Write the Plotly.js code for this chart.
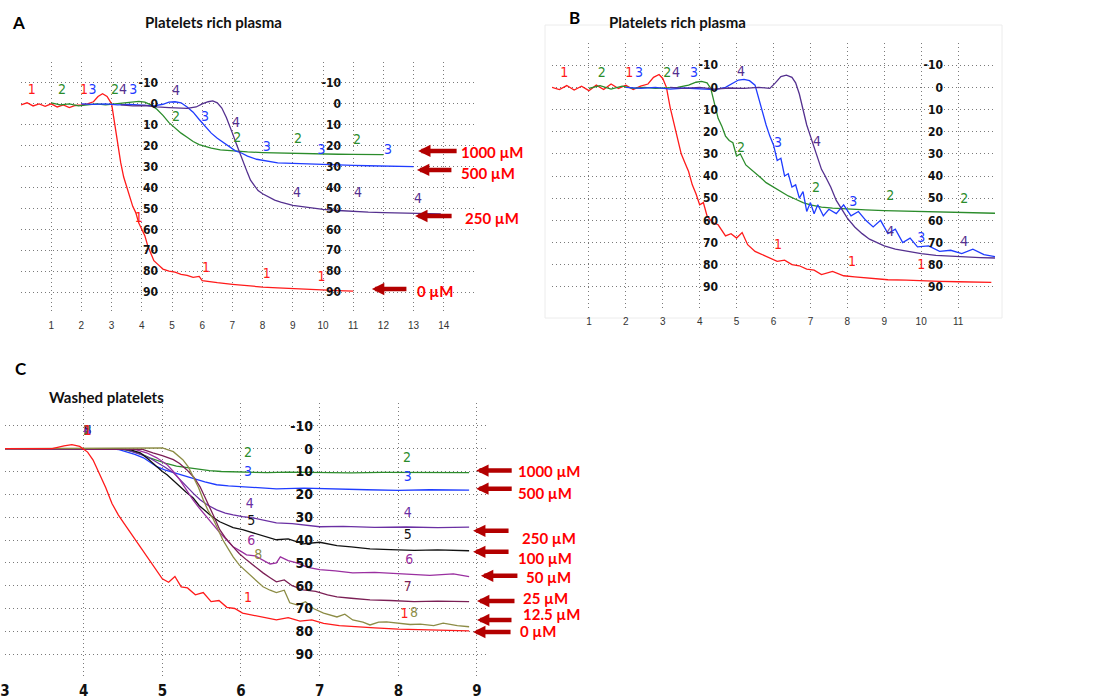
<!DOCTYPE html>
<html><head><meta charset="utf-8">
<script src="https://cdn.plot.ly/plotly-3.0.1.min.js"></script>
<style>html,body{margin:0;padding:0;background:#fff;}#chart{width:1108px;height:699px;}</style>
</head><body><div id="chart"></div>
<script>
// ---------- Panel A: platelets rich plasma (time, min / aggregation %) ----------
const A_x_0 = [0,0.2,0.4,0.6,0.8,1.0,1.2,1.4,1.6,1.8,2.0,2.2,2.4,2.55,2.7,2.85,3.0,3.1,3.2,3.3,3.4,3.5,3.6,3.7,3.8,3.9,4.0,4.1,4.2,4.3,4.4,4.55,4.7,4.9,5.1,5.3,5.5,5.7,5.9,6.0,6.2,6.5,7.0,7.5,8.0,8.5,9.0,9.5,10.0,10.5,11.0];
const A_y_0 = [0.5,-0.5,1,0,1.2,0,1.5,0.5,1.8,0.8,0.5,0,-1,-3.5,-4.8,-3.5,0,10,19,28,35,40,44,49,52,57,60,63,68,72,75,77,79,80,80.5,81.5,82,83,82.5,84.5,85,85.5,86.3,87,87.6,88,88.4,88.8,89,89.3,89.5];
const A_x_1000 = [1.0,1.3,1.6,1.9,2.2,2.5,2.8,3.1,3.4,3.7,3.9,4.1,4.3,4.5,4.7,4.9,5.1,5.3,5.5,5.7,5.9,6.1,6.3,6.6,7.0,7.5,8.0,8.5,9.0,9.5,10.0,10.5,11.0,11.5,12.0];
const A_y_1000 = [-0.5,0.5,0,1,0.5,0,0.5,0,-0.5,-1,-1.2,-0.8,0.5,2.6,5.5,9,11.5,14,16,18,19.5,20.5,21.2,22,22.5,23,23.3,23.5,23.7,24,24,24.1,24.2,24.3,24.3];
const A_x_500 = [2.0,2.4,2.8,3.2,3.6,4.0,4.4,4.7,4.9,5.1,5.3,5.5,5.7,5.9,6.1,6.3,6.5,6.7,6.9,7.1,7.3,7.5,7.8,8.1,8.5,9.0,9.5,10.0,10.5,11.0,11.5,12.0,12.5,13.0];
const A_y_500 = [0,0.3,0,0.5,0.3,0.8,1,0.2,-0.8,-1,-0.5,1.5,4,7.5,11,14,16.5,18.5,20.5,22.5,23.5,25,26.5,27.3,28.2,28.5,28.8,29,29.2,29.4,29.6,29.8,29.9,30];
const A_x_250 = [3.3,3.7,4.1,4.5,4.9,5.2,5.5,5.8,6.0,6.2,6.35,6.5,6.65,6.8,6.9,7.0,7.1,7.2,7.3,7.4,7.5,7.6,7.7,7.85,8.0,8.2,8.4,8.6,8.8,9.0,9.5,10.0,10.5,11.0,11.5,12.0,12.5,13.0,13.5,13.9];
const A_y_250 = [0.5,1,0.8,1.5,1.8,2.0,2.2,1.5,0,-1,-1.4,-0.5,2,6.5,10,14,18,22,26,29,33,36.5,38.5,41.5,43,44.5,46,47,47.8,48.5,49.5,50.5,51,51.5,51.8,52,52.2,52.4,52.5,52.6];
// curve number labels (1 = 0 µM, 2 = 1000 µM, 3 = 500 µM, 4 = 250 µM)
const A_lblx_1 = [0.36,2.09,3.9,6.13,8.14,9.95], A_lbly_1 = [-6.2,-6.2,55,78.5,81.5,83];
const A_lblx_2 = [1.36,3.11,5.13,7.16,9.17,11.13], A_lbly_2 = [-6.2,-6.2,6.7,16.5,17.2,17.7];
const A_lblx_3 = [2.37,3.72,6.09,8.14,9.95,12.15], A_lbly_3 = [-6.2,-6.5,6.7,21,22.5,22.5];
const A_lblx_4 = [3.38,5.13,7.12,9.14,11.16,13.15], A_lbly_4 = [-6.2,-5.8,9.5,43,43,45.5];
const A_doses = ['1000 µM','500 µM','250 µM','0 µM'];
const A_doseY = [22.5,31.6,53.6,88.5];
const A_doseX = [13.15,13.11,13.05,11.62];

// ---------- Panel B: platelets rich plasma ----------
const B_x_0 = [0,0.2,0.4,0.6,0.8,1.0,1.2,1.4,1.6,1.8,2.0,2.2,2.4,2.6,2.75,2.9,3.0,3.1,3.2,3.3,3.4,3.5,3.6,3.7,3.8,3.9,4.0,4.1,4.2,4.35,4.5,4.7,4.85,5.0,5.15,5.3,5.5,5.7,5.9,6.1,6.3,6.5,6.7,6.9,7.1,7.3,7.6,7.9,8.2,8.6,9.1,9.6,10.0,10.5,11.0,11.5,11.9];
const B_y_0 = [0,1,-0.8,1.2,-0.5,1.5,-1,1,-1.5,0.5,-1,1,-0.5,-1.5,-4.5,-5.8,-4,0,9,16,24,30,34,38,44,48,53,52,58,61,62,67,66,68,65.5,71,74,75.5,77,78.5,78,80,80.5,82,82.5,84.5,83,85,85.5,86,86.8,87,87.3,87.5,87.7,87.9,88];
const B_x_100 = [1.0,1.3,1.6,1.9,2.2,2.5,2.8,3.1,3.4,3.7,3.9,4.05,4.2,4.3,4.4,4.5,4.6,4.7,4.8,4.9,5.0,5.1,5.25,5.4,5.6,5.8,6.0,6.2,6.4,6.6,6.8,7.0,7.3,7.6,8.0,8.5,9.0,9.5,10.0,10.5,11.0,11.5,12.0];
const B_y_100 = [0.5,-0.8,0.8,-0.5,0.5,0,0.5,0.2,0,-1,-2.3,-2.7,-2,0.5,7,14,17.5,22,24,25,31,30,35,37,40,43,45,47,49,50.5,52,53,54,54.5,55,55.3,55.6,55.8,56,56.3,56.5,56.7,56.8];
const B_x_50 = [2.0,2.4,2.8,3.2,3.6,4.0,4.4,4.7,4.9,5.05,5.2,5.35,5.5,5.6,5.7,5.8,5.9,6.0,6.1,6.2,6.3,6.4,6.5,6.6,6.7,6.8,6.9,7.0,7.1,7.2,7.35,7.5,7.7,7.9,8.1,8.3,8.5,8.7,8.9,9.1,9.3,9.5,9.7,9.9,10.2,10.5,10.8,11.1,11.4,11.7,12.0];
const B_y_50 = [0,0.5,0,0.8,0.3,0.5,1,0,-2,-3.3,-3.6,-3,-1,5,12,17,22,26,33,32,40,39,45,44,50,47,56,52,57,53,58,55,57,53,58,56,60,63,60,66,64,70,68,72,71.5,74,73.5,75,73,75.5,76.4];
const B_x_25 = [3.2,3.6,4.0,4.4,4.8,5.2,5.6,5.9,6.05,6.2,6.35,6.5,6.6,6.7,6.8,6.9,7.0,7.1,7.2,7.3,7.4,7.55,7.7,7.85,8.0,8.2,8.4,8.6,8.8,9.0,9.3,9.6,10.0,10.4,10.8,11.2,11.6,12.0];
const B_y_25 = [0,0.5,0,0.8,0.3,0.5,0,0.5,-2,-4.8,-5.5,-4.5,-2,3,10,17,22,27,32,37,40,45,51,55,59,63,66,68.5,70,71.5,73,74,75,75.8,76.2,76.5,76.8,77];
// curve number labels (1 = 0 µM, 2 = 100 µM, 3 = 50 µM, 4 = 25 µM)
const B_lblx_1 = [0.33,2.09,6.12,8.13,10.0], B_lbly_1 = [-6.3,-6.3,71.5,79.2,80.5];
const B_lblx_2 = [1.35,3.12,5.12,7.15,9.16,11.17], B_lbly_2 = [-6.3,-6.3,27.6,45.7,49.3,50.7];
const B_lblx_3 = [2.36,3.85,6.12,8.16,10.0], B_lbly_3 = [-6.3,-6.3,25.3,52,68.3];
const B_lblx_4 = [3.36,5.12,7.18,9.16,11.17], B_lbly_4 = [-6.3,-6.8,24.9,65.6,70];
const B_doses = ['100 µM','50 µM','25 µM','0 µM'];
const B_doseY = [57,71,79.2,88.7];
const B_doseX = [12.28,12.28,12.22,12.06];

// ---------- Panel C: washed platelets ----------
const C_x_0 = [3.0,3.2,3.4,3.6,3.75,3.85,3.95,4.05,4.12,4.2,4.28,4.36,4.44,4.52,4.6,4.7,4.8,4.9,5.0,5.08,5.16,5.24,5.32,5.42,5.52,5.62,5.72,5.82,5.92,6.02,6.15,6.3,6.45,6.6,6.75,6.9,7.05,7.25,7.45,7.7,8.0,8.3,8.6,8.9];
const C_y_0 = [0,0,0.3,0,-1.2,-1.8,-1,1.5,5,11,17,24,29,33,37,42,47,52,57,58.5,56,60.5,61,64,63,67,66.5,69.5,70,72,73,74,75,74,75.5,75,76.5,77.5,78,78.5,79,79.2,79.5,79.8];
const C_x_1000 = [3.0,3.5,4.0,4.3,4.5,4.63,4.75,4.84,4.95,5.06,5.18,5.31,5.45,5.6,5.75,5.9,6.1,6.33,6.6,7.0,7.4,7.8,8.2,8.6,8.9];
const C_y_1000 = [0,0,0,0,0.3,1.3,2.6,4,5.3,6.6,7.6,8.3,9,9.6,10,10.2,10.4,10.5,10.3,10.5,10.6,10.4,10.5,10.6,10.5];
const C_x_500 = [3.0,3.5,4.0,4.3,4.45,4.55,4.65,4.76,4.85,4.93,5.03,5.14,5.26,5.39,5.54,5.69,5.84,5.99,6.2,6.45,6.8,7.2,7.6,8.0,8.4,8.9];
const C_y_500 = [0,0,0,0,0.4,1.3,2.5,4,6,7.9,9.3,10.5,11.8,13,14.5,15.8,16.3,16.7,17.2,17.6,17.3,17.8,18,18.3,18,18.2];
const C_x_250 = [3.0,3.5,4.0,4.4,4.55,4.63,4.75,4.85,4.93,5.03,5.14,5.22,5.31,5.4,5.48,5.58,5.69,5.8,5.9,6.02,6.15,6.3,6.45,6.65,6.85,7.0,7.3,7.7,8.1,8.5,8.9];
const C_y_250 = [0,0,0,0,0.5,1.3,2.8,4.3,5.8,8,10.5,13.5,16.7,19.8,22.4,24.8,26.8,28.2,29,29.8,30.3,31.5,32.5,32.8,33.5,34.2,34,34.5,34.3,34.6,34.4];
const C_x_100 = [3.0,3.5,4.0,4.4,4.6,4.72,4.82,4.93,5.0,5.06,5.14,5.22,5.3,5.39,5.47,5.56,5.64,5.73,5.82,5.9,6.02,6.15,6.3,6.45,6.6,6.79,7.0,7.22,7.4,7.64,7.9,8.2,8.5,8.9];
const C_y_100 = [0,0,0,0,0.5,1.8,4.5,7.9,10,11.4,14,16.7,19,21.5,25,27.6,30,32,33.5,34.6,35.5,36.8,38.5,39.9,39.5,41.7,41,42.5,43,43.9,44.2,44.5,44.3,44.7];
const C_x_50 = [3.0,3.5,4.0,4.4,4.65,4.8,4.93,5.06,5.14,5.22,5.3,5.39,5.47,5.56,5.64,5.73,5.82,5.9,6.0,6.07,6.18,6.28,6.37,6.45,6.5,6.6,6.71,6.85,7.0,7.2,7.42,7.7,8.06,8.4,8.7,8.9];
const C_y_50 = [0,0,0,0,0.3,1.8,4,7,10,13.6,18,22.4,26,29.8,33.5,36.8,40,43,45,46.5,47,48.7,50.5,50,47.4,49,50,52,53,53.5,54.4,54.2,55,55.5,54.8,56];
const C_x_25 = [3.0,3.5,4.0,4.5,4.75,4.88,5.0,5.14,5.22,5.31,5.4,5.48,5.54,5.6,5.66,5.73,5.8,5.9,5.98,6.07,6.17,6.28,6.37,6.45,6.55,6.65,6.79,6.95,7.1,7.22,7.4,7.64,7.9,8.2,8.5,8.9];
const C_y_25 = [0,0,0,0,0.3,1.8,3,4.8,6.5,9.2,12.5,16.7,21,25.4,30,35.5,39,43,46,48.7,51.5,54.4,56.5,58.3,57.5,60,61.8,62.5,64,64.9,65.5,66.2,66.5,67,66.8,67];
const C_x_12 = [3.0,3.5,4.0,4.5,4.8,5.0,5.14,5.26,5.33,5.39,5.46,5.52,5.58,5.65,5.71,5.77,5.84,5.9,5.98,6.07,6.17,6.28,6.37,6.45,6.55,6.62,6.72,6.82,6.92,7.05,7.22,7.32,7.42,7.55,7.64,7.75,7.85,8.0,8.15,8.28,8.45,8.57,8.75,8.9];
const C_y_12 = [0,0,0,0,0,-0.3,1.3,4.8,8,12.3,17,22.4,27,31,35.5,40,44,47.4,51,53.9,57,60.5,62,63,62,67.5,68.5,67,70,72,73.7,72.5,75,76,77.2,76,75.9,76.5,77,76.8,77.5,76.4,77.5,78];
// curve number labels (1 = 0, 2 = 1000, 3 = 500, 4 = 250, 5 = 100, 6 = 50, 7 = 25, 8 = 12.5 µM)
const C_lblx_1 = [4.05,6.09,8.08], C_lbly_1 = [-7.5,65.4,72.8];
const C_lblx_2 = [4.05,6.09,8.11], C_lbly_2 = [-7.5,2.3,4.4];
const C_lblx_3 = [4.05,6.09,8.12], C_lbly_3 = [-7.5,10.6,12.7];
const C_lblx_4 = [4.05,6.11,8.12], C_lbly_4 = [-7.5,24.6,28.5];
const C_lblx_5 = [4.05,6.13,8.12], C_lbly_5 = [-7.5,32,38];
const C_lblx_6 = [4.05,6.13,8.14], C_lbly_6 = [-7.5,40.5,49];
const C_lblx_7 = [4.05,8.12], C_lbly_7 = [-7.5,61];
const C_lblx_8 = [4.05,6.22,8.2], C_lbly_8 = [-7.5,47,72];
const C_doses = ['1000 µM','500 µM','250 µM','100 µM','50 µM','25 µM','12.5 µM','0 µM'];
const C_doseY = [9.6,17.5,36,45.2,55.7,66.7,75,80.3];
const C_doseX = [8.99,8.99,8.95,8.95,9.05,9.0,9.0,8.95];

// ---------- axis ticks ----------
const yGridVals = [-20,-10,0,10,20,30,40,50,60,70,80,90,100];
const yLabelVals = [-10,0,10,20,30,40,50,60,70,80,90];
const yLabelText = ['-10','0','10','20','30','40','50','60','70','80','90'];
const A_xTicks = [0,1,2,3,4,5,6,7,8,9,10,11,12,13,14,15];
const A_xText = ['','1','2','3','4','5','6','7','8','9','10','11','12','13','14',''];
const B_xTicks = [0,1,2,3,4,5,6,7,8,9,10,11,12];
const B_xText = ['','1','2','3','4','5','6','7','8','9','10','11',''];
const C_xTicks = [3,4,5,6,7,8,9,9.14];
const C_xText = ['3','4','5','6','7','8','9',''];

// ---------- styling ----------
const W = 1108, H = 699;
const NARROW = "Liberation Sans Narrow, Arial Narrow, DejaVu Sans Condensed, sans-serif";
const CAL = "Lato, Open Sans, sans-serif";
const COL = {red:'#ff1a1a', green:'#2b8c2b', blue:'#1f3cff', purple:'#54308f',
  c4:'#6a2fa3', c5:'#111111', c6:'#9a2fa0', c7:'#7b1f55', c8:'#8c8c45'};
const GRID = '#7a7a7a';
const DOT = '1px,3px';
const px = v => v / W, py = v => 1 - v / H;

const traces = [];
function line(x, y, color, xa, ya) {
  traces.push({x, y, type:'scatter', mode:'lines', xaxis:xa, yaxis:ya,
    line:{color, width:1.3}, hoverinfo:'skip', cliponaxis:true});
}
function nums(x, y, txt, color, xa, ya, size) {
  traces.push({x, y, type:'scatter', mode:'text', xaxis:xa, yaxis:ya,
    text:x.map(()=>txt), textposition:'middle center', cliponaxis:false,
    textfont:{family:NARROW, size, color}, hoverinfo:'skip'});
}
// empty carrier traces so the inner label axes are drawn
function carrier(xa, ya) {
  traces.push({x:[], y:[], type:'scatter', mode:'lines', xaxis:xa, yaxis:ya, hoverinfo:'skip', showlegend:false});
}
line(A_x_0, A_y_0, COL.red, 'x', 'y');
line(A_x_1000, A_y_1000, COL.green, 'x', 'y');
line(A_x_500, A_y_500, COL.blue, 'x', 'y');
line(A_x_250, A_y_250, COL.purple, 'x', 'y');
nums(A_lblx_1, A_lbly_1, '1', COL.red, 'x', 'y', 14);
nums(A_lblx_2, A_lbly_2, '2', COL.green, 'x', 'y', 14);
nums(A_lblx_3, A_lbly_3, '3', COL.blue, 'x', 'y', 14);
nums(A_lblx_4, A_lbly_4, '4', COL.purple, 'x', 'y', 14);

line(B_x_0, B_y_0, COL.red, 'x2', 'y2');
line(B_x_100, B_y_100, COL.green, 'x2', 'y2');
line(B_x_50, B_y_50, COL.blue, 'x2', 'y2');
line(B_x_25, B_y_25, COL.purple, 'x2', 'y2');
nums(B_lblx_1, B_lbly_1, '1', COL.red, 'x2', 'y2', 14);
nums(B_lblx_2, B_lbly_2, '2', COL.green, 'x2', 'y2', 14);
nums(B_lblx_3, B_lbly_3, '3', COL.blue, 'x2', 'y2', 14);
nums(B_lblx_4, B_lbly_4, '4', COL.purple, 'x2', 'y2', 14);

line(C_x_1000, C_y_1000, COL.green, 'x3', 'y3');
line(C_x_500, C_y_500, COL.blue, 'x3', 'y3');
line(C_x_250, C_y_250, COL.c4, 'x3', 'y3');
line(C_x_100, C_y_100, COL.c5, 'x3', 'y3');
line(C_x_50, C_y_50, COL.c6, 'x3', 'y3');
line(C_x_25, C_y_25, COL.c7, 'x3', 'y3');
line(C_x_12, C_y_12, COL.c8, 'x3', 'y3');
line(C_x_0, C_y_0, COL.red, 'x3', 'y3');
nums(C_lblx_8, C_lbly_8, '8', COL.c8, 'x3', 'y3', 14);
nums(C_lblx_7, C_lbly_7, '7', COL.c7, 'x3', 'y3', 14);
nums(C_lblx_6, C_lbly_6, '6', COL.c6, 'x3', 'y3', 14);
nums(C_lblx_5, C_lbly_5, '5', COL.c5, 'x3', 'y3', 14);
nums(C_lblx_4, C_lbly_4, '4', COL.c4, 'x3', 'y3', 14);
nums(C_lblx_3, C_lbly_3, '3', COL.blue, 'x3', 'y3', 14);
nums(C_lblx_2, C_lbly_2, '2', COL.green, 'x3', 'y3', 14);
nums(C_lblx_1, C_lbly_1, '1', COL.red, 'x3', 'y3', 14);

carrier('x', 'y4'); carrier('x', 'y5');
carrier('x2', 'y6'); carrier('x2', 'y7');
carrier('x3', 'y8');

function xAxis(domain, range, tv, tt, anchor, font, standoff) {
  return {domain, range, anchor, tickmode:'array', tickvals:tv, ticktext:tt,
    showgrid:true, gridcolor:GRID, griddash:DOT, gridwidth:1, zeroline:false,
    showline:false, ticks:'', tickfont:font, ticklabelstandoff:standoff, fixedrange:true};
}
function yAxis(domain, anchor) {
  return {domain, range:[100,-20], anchor, tickmode:'array', tickvals:yGridVals,
    showticklabels:false, showgrid:true, gridcolor:GRID, griddash:DOT, gridwidth:1,
    zeroline:false, showline:false, ticks:'', fixedrange:true};
}
function yLab(over, pos, size) {
  return {overlaying:over, anchor:'free', position:pos, range:[100,-20], side:'left',
    tickmode:'array', tickvals:yLabelVals, ticktext:yLabelText, showgrid:false,
    zeroline:false, showline:false, ticks:'', ticklabelstandoff:0,
    tickfont:{family:NARROW, size, color:'#111', weight:'bold'}, fixedrange:true};
}
const smallTick = {family:"Liberation Sans, Arial, sans-serif", size:10, color:'#333'};
const boldTick = {family:NARROW, size:15, color:'#111', weight:'bold'};

const layout = {
  width:W, height:H, autosize:false, showlegend:false,
  margin:{l:0, r:0, t:0, b:0, pad:0},
  paper_bgcolor:'#fff', plot_bgcolor:'#fff',
  xaxis: xAxis([px(21), px(474)], [0,15], A_xTicks, A_xText, 'y', smallTick, 5),
  yaxis: yAxis([py(313), py(62)], 'x'),
  xaxis2: xAxis([px(552), px(995)], [0,12], B_xTicks, B_xText, 'y2', smallTick, 5),
  yaxis2: yAxis([py(309), py(43)], 'x2'),
  xaxis3: xAxis([px(5), px(488)], [3,9.14], C_xTicks, C_xText, 'y3', boldTick, 3),
  yaxis3: yAxis([py(677), py(403)], 'x3'),
  yaxis4: yLab('y', px(158), 12),
  yaxis5: yLab('y', px(341), 12),
  yaxis6: yLab('y2', px(718), 12),
  yaxis7: yLab('y2', px(943), 12),
  yaxis8: yLab('y3', px(313), 14),
  shapes: [
    {type:'rect', xref:'paper', yref:'paper', x0:px(545), x1:px(1002), y0:py(318), y1:py(25),
     line:{color:'#ececec', width:1}, fillcolor:'rgba(0,0,0,0)', layer:'below'}
  ],
  annotations: []
};
const ann = layout.annotations;
// panel letters and titles
[['A',10,22,17],['B',567,17,17],['C',13,368,17]].forEach(([t,x,y,s]) => ann.push({
  text:'<b>'+t+'</b>', xref:'paper', yref:'paper', x:px(x), y:py(y), xanchor:'left', yanchor:'middle',
  showarrow:false, font:{family:CAL, size:s, color:'#000'}}));
[['Platelets rich plasma',143,22],['Platelets rich plasma',607,22],['Washed platelets',47,397]].forEach(([t,x,y]) => ann.push({
  text:'<b>'+t+'</b>', xref:'paper', yref:'paper', x:px(x), y:py(y), xanchor:'left', yanchor:'middle',
  showarrow:false, font:{family:CAL, size:15, color:'#111'}}));

// dose arrows: [tail length px, text x-shift px, text y-shift px]
const A_arrowGeo = [[40,41,-1],[36,42,-3],[38,48,-2],[36,43,-2]];
const B_arrowGeo = [[38,46,-2],[38,48,-3],[37,42,-3],[38,43,-4]];
const C_arrowGeo = [[37,40,0],[37,40,-4],[37,47,-7],[37,43,-6],[38,43,-1],[39,44,3],[36,44,6],[39,45,1]];
function doses(labels, xs, ys, geo, xr, yr) {
  labels.forEach((t, i) => {
    const [len, dx, dy] = geo[i];
    ann.push({x:xs[i], y:ys[i], xref:xr, yref:yr, ax:len, ay:0, axref:'pixel', ayref:'pixel',
      text:'', showarrow:true, arrowhead:2, arrowsize:0.55, arrowwidth:4.5, arrowcolor:'#b30000', standoff:0, startstandoff:0});
    ann.push({x:xs[i], y:ys[i], xref:xr, yref:yr, xshift:dx, yshift:dy, text:'<b>'+t+'</b>',
      showarrow:false, xanchor:'left', yanchor:'middle', font:{family:CAL, size:15, color:'#ff0000'}});
  });
}
doses(A_doses, A_doseX, A_doseY, A_arrowGeo, 'x', 'y');
doses(B_doses, B_doseX, B_doseY, B_arrowGeo, 'x2', 'y2');
doses(C_doses, C_doseX, C_doseY, C_arrowGeo, 'x3', 'y3');

Plotly.newPlot('chart', traces, layout, {displayModeBar:false, staticPlot:true});
</script></body></html>
